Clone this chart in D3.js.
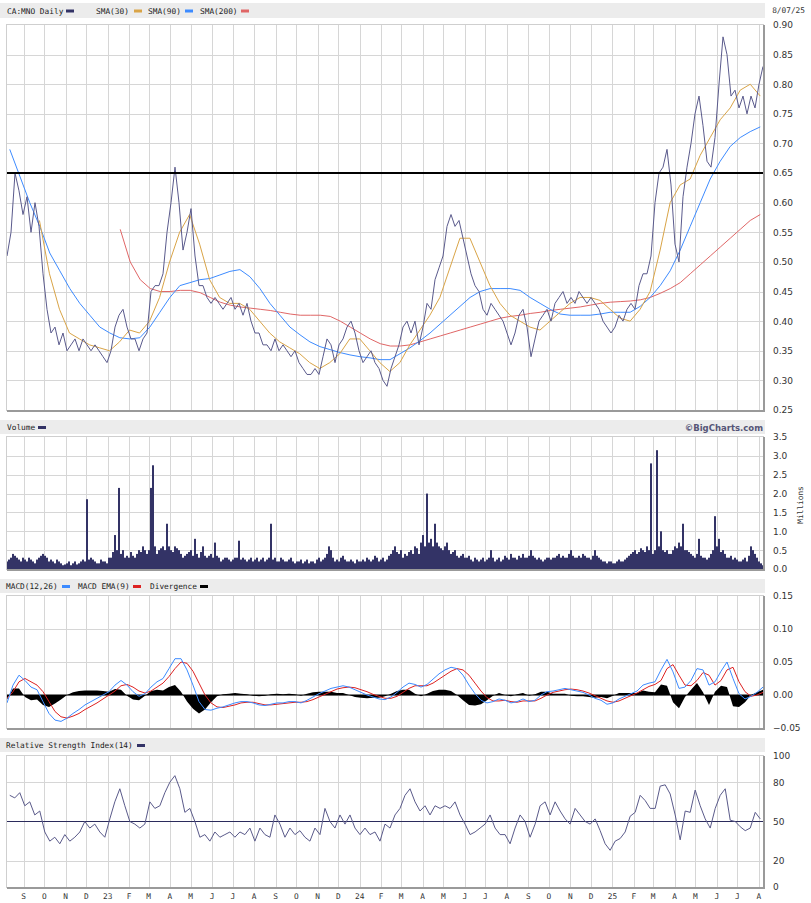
<!DOCTYPE html>
<html><head><meta charset="utf-8">
<script src="https://cdn.jsdelivr.net/npm/d3@7"></script>
<style>body{margin:0;background:#fff}svg{display:block}</style>
</head><body><svg id="c" width="811" height="903"></svg>
<script>
// ---------------- DATA ----------------
const chartStart = "2022-08-08", chartEnd = "2025-08-07";
const chartTitle = "CA:MNO Daily", chartDate = "8/07/25";
const monthLabels = ["S","O","N","D","23","F","M","A","M","J","J","A","S","O","N","D","24","F","M","A","M","J","J","A","S","O","N","D","25","F","M","A","M","J","J","A"];
const priceTicks = [0.25,0.30,0.35,0.40,0.45,0.50,0.55,0.60,0.65,0.70,0.75,0.80,0.85,0.90];
const volumeTicks = [0,0.5,1,1.5,2,2.5,3,3.5];
const macdTicks = [-0.05,0,0.05,0.10,0.15];
const rsiTicks = [0,20,50,80,100];
const resistanceLevel = 0.65;

// price (evenly spaced chartStart..chartEnd)
const priceValues = [
0.51,0.55,0.65,0.62,0.58,0.61,0.55,0.60,0.56,0.48,
0.42,0.38,0.39,0.36,0.38,0.35,0.36,0.37,0.35,0.37,
0.36,0.35,0.36,0.35,0.34,0.33,0.35,0.39,0.41,0.42,
0.39,0.37,0.37,0.35,0.37,0.38,0.45,0.46,0.46,0.48,
0.55,0.60,0.66,0.60,0.52,0.55,0.59,0.51,0.46,0.46,
0.44,0.43,0.44,0.43,0.42,0.43,0.44,0.42,0.43,0.41,
0.43,0.40,0.38,0.38,0.36,0.36,0.35,0.37,0.35,0.36,
0.35,0.34,0.35,0.33,0.32,0.31,0.31,0.32,0.31,0.34,
0.37,0.36,0.33,0.36,0.37,0.39,0.40,0.38,0.35,0.33,
0.34,0.35,0.33,0.32,0.30,0.29,0.32,0.34,0.36,0.39,
0.40,0.38,0.40,0.36,0.39,0.43,0.42,0.47,0.49,0.51,
0.56,0.58,0.56,0.57,0.54,0.51,0.48,0.46,0.45,0.42,
0.41,0.43,0.42,0.41,0.40,0.38,0.36,0.38,0.41,0.42,
0.39,0.34,0.37,0.40,0.41,0.42,0.40,0.43,0.44,0.45,
0.43,0.44,0.43,0.45,0.44,0.43,0.44,0.43,0.42,0.40,
0.39,0.38,0.39,0.41,0.40,0.42,0.43,0.42,0.46,0.48,
0.48,0.51,0.60,0.65,0.66,0.69,0.63,0.53,0.50,0.61,
0.66,0.70,0.75,0.78,0.73,0.67,0.66,0.71,0.80,0.88,
0.85,0.78,0.79,0.76,0.78,0.75,0.78,0.76,0.80,0.83];

const sma30Span = ["2022-09-24","2025-08-03"];
const sma30Values = [
0.57,0.48,0.42,0.38,0.37,0.36,0.355,0.35,0.365,0.385,
0.38,0.40,0.44,0.50,0.55,0.58,0.53,0.47,0.44,0.43,
0.43,0.42,0.40,0.38,0.365,0.355,0.345,0.33,0.32,0.33,
0.345,0.37,0.37,0.35,0.33,0.315,0.33,0.36,0.385,0.41,
0.44,0.49,0.54,0.54,0.50,0.46,0.43,0.41,0.40,0.39,
0.385,0.40,0.415,0.43,0.44,0.44,0.435,0.42,0.405,0.40,
0.42,0.45,0.52,0.60,0.63,0.64,0.68,0.71,0.74,0.76,
0.79,0.80,0.78];

const sma90Span = ["2022-08-12","2025-08-03"];
const sma90Values = [
0.69,0.645,0.60,0.56,0.515,0.485,0.455,0.43,0.41,0.39,
0.38,0.372,0.37,0.372,0.39,0.415,0.44,0.46,0.465,0.47,
0.472,0.478,0.484,0.487,0.475,0.455,0.43,0.41,0.39,0.377,
0.365,0.357,0.352,0.347,0.343,0.34,0.338,0.335,0.335,0.345,
0.355,0.367,0.38,0.395,0.41,0.425,0.44,0.45,0.455,0.455,
0.455,0.452,0.44,0.43,0.42,0.412,0.41,0.41,0.41,0.412,
0.415,0.415,0.415,0.425,0.44,0.46,0.485,0.52,0.56,0.60,
0.64,0.67,0.695,0.71,0.72,0.728];

const sma200Span = ["2023-01-19","2025-08-03"];
const sma200Values = [
0.555,0.50,0.47,0.455,0.45,0.45,0.452,0.452,0.448,0.44,
0.432,0.427,0.424,0.422,0.42,0.418,0.415,0.412,0.41,0.41,
0.41,0.408,0.40,0.39,0.38,0.37,0.362,0.358,0.358,0.36,
0.365,0.37,0.375,0.38,0.385,0.39,0.395,0.40,0.405,0.408,
0.41,0.413,0.415,0.418,0.42,0.422,0.424,0.427,0.43,0.432,
0.433,0.434,0.436,0.44,0.447,0.455,0.465,0.48,0.495,0.51,
0.525,0.54,0.555,0.57,0.58];

// volume, millions (evenly spaced chartStart..chartEnd)
const volumeValues = [
0.2,0.25,0.3,0.4,0.35,0.3,0.25,0.2,0.3,0.25,0.2,0.3,0.25,0.2,0.15,0.25,0.3,0.35,0.4,0.35,
0.3,0.2,0.25,0.2,0.15,0.25,0.2,0.15,0.1,0.12,0.15,0.2,0.1,0.15,0.2,0.12,0.15,0.2,0.25,0.2,
1.85,0.25,0.3,0.25,0.2,0.15,0.15,0.25,0.2,0.2,0.15,0.3,0.3,0.45,0.9,0.5,2.15,0.4,0.5,0.3,
0.35,0.3,0.45,0.35,0.3,0.4,0.5,0.45,0.6,0.5,0.4,0.5,2.15,2.75,0.6,0.4,0.5,0.55,0.6,0.5,
1.2,0.6,0.5,0.45,0.6,0.55,0.5,0.4,0.3,0.35,0.4,0.45,0.5,0.35,0.8,0.4,0.3,0.45,0.6,0.35,
0.3,0.35,0.4,0.3,0.7,0.35,0.3,0.2,0.25,0.3,0.3,0.25,0.2,0.25,0.3,0.3,0.75,0.25,0.3,0.25,
0.2,0.25,0.3,0.2,0.25,0.3,0.2,0.25,0.3,0.2,0.25,0.3,1.2,0.25,0.3,0.2,0.2,0.3,0.25,0.2,
0.2,0.25,0.3,0.2,0.15,0.2,0.2,0.25,0.15,0.2,0.25,0.15,0.2,0.2,0.15,0.25,0.3,0.2,0.25,0.3,
0.4,0.6,0.5,0.3,0.2,0.25,0.2,0.3,0.35,0.25,0.2,0.2,0.25,0.2,0.15,0.25,0.2,0.2,0.25,0.2,
0.3,0.25,0.2,0.25,0.35,0.3,0.2,0.25,0.3,0.2,0.25,0.35,0.4,0.5,0.6,0.45,0.4,0.5,0.3,0.4,
0.35,0.45,0.5,0.4,0.6,0.55,0.4,0.7,0.9,0.6,2.0,0.7,0.8,0.6,1.2,0.7,0.6,0.55,0.5,0.6,
0.7,0.5,0.4,0.45,0.5,0.35,0.3,0.35,0.4,0.3,0.3,0.35,0.25,0.2,0.3,0.25,0.2,0.25,0.3,0.2,
0.25,0.3,0.5,0.3,0.2,0.25,0.3,0.2,0.25,0.35,0.3,0.25,0.4,0.3,0.3,0.25,0.35,0.3,0.4,0.3,
0.3,0.35,0.5,0.35,0.3,0.25,0.3,0.25,0.2,0.25,0.3,0.3,0.25,0.3,0.3,0.35,0.4,0.3,0.35,0.3,
0.3,0.4,0.5,0.35,0.3,0.3,0.35,0.3,0.4,0.35,0.3,0.3,0.25,0.35,0.5,0.35,0.3,0.25,0.2,0.2,
0.15,0.2,0.2,0.15,0.15,0.2,0.25,0.2,0.2,0.25,0.3,0.35,0.4,0.45,0.5,0.4,0.45,0.55,0.5,0.45,
0.6,0.5,2.8,0.4,0.5,3.15,0.6,1.0,0.5,0.45,0.5,0.4,0.4,0.5,0.6,0.55,0.7,0.6,1.2,0.5,
0.5,0.45,0.4,0.35,0.3,0.4,0.8,0.35,0.3,0.3,0.25,0.3,0.4,0.5,1.4,0.6,0.8,0.45,0.5,0.4,
0.3,0.3,0.35,0.25,0.3,0.25,0.2,0.2,0.25,0.3,0.2,0.35,0.6,0.5,0.4,0.3,0.2,0.15,0.1];

// MACD(12,26) and EMA(9) (evenly spaced chartStart..chartEnd)
const macdValues = [
-0.012,0.015,0.030,0.022,0.012,0.008,-0.010,-0.028,-0.038,-0.040,
-0.035,-0.028,-0.022,-0.015,-0.010,-0.005,0.000,0.005,0.015,0.022,
0.015,0.005,-0.002,0.002,0.012,0.020,0.025,0.040,0.055,0.055,
0.038,0.015,-0.010,-0.022,-0.023,-0.020,-0.018,-0.015,-0.012,-0.010,
-0.010,-0.012,-0.015,-0.016,-0.014,-0.012,-0.012,-0.010,-0.010,-0.012,
-0.008,-0.003,0.002,0.006,0.010,0.012,0.014,0.012,0.008,0.004,
0.000,-0.003,-0.006,-0.007,-0.003,0.004,0.012,0.018,0.016,0.012,
0.016,0.024,0.032,0.038,0.042,0.040,0.030,0.015,0.002,-0.008,
-0.012,-0.010,-0.006,-0.008,-0.012,-0.010,-0.006,-0.010,-0.008,0.000,
0.005,0.006,0.008,0.010,0.008,0.006,0.004,0.000,-0.005,-0.008,
-0.014,-0.012,-0.006,-0.002,0.002,0.006,0.015,0.018,0.020,0.038,
0.054,0.035,0.010,0.012,0.022,0.040,0.038,0.015,0.020,0.036,
0.050,0.025,0.002,-0.006,-0.002,0.004,0.012];
const signalValues = [
-0.005,0.005,0.020,0.025,0.020,0.015,0.005,-0.010,-0.025,-0.033,
-0.035,-0.032,-0.028,-0.022,-0.017,-0.012,-0.006,0.000,0.006,0.014,
0.016,0.012,0.006,0.003,0.006,0.012,0.018,0.028,0.040,0.050,
0.048,0.036,0.018,0.000,-0.012,-0.018,-0.019,-0.017,-0.015,-0.012,
-0.011,-0.011,-0.013,-0.015,-0.015,-0.014,-0.013,-0.012,-0.011,-0.011,
-0.010,-0.007,-0.003,0.001,0.005,0.009,0.011,0.012,0.011,0.008,
0.005,0.001,-0.002,-0.005,-0.005,-0.002,0.004,0.010,0.014,0.014,
0.014,0.018,0.024,0.030,0.036,0.040,0.038,0.030,0.018,0.006,
-0.004,-0.009,-0.009,-0.008,-0.010,-0.011,-0.009,-0.009,-0.009,-0.005,
0.000,0.004,0.006,0.008,0.009,0.008,0.006,0.003,-0.001,-0.005,
-0.009,-0.011,-0.009,-0.005,-0.001,0.003,0.008,0.013,0.016,0.022,
0.040,0.046,0.030,0.015,0.014,0.022,0.034,0.030,0.015,0.022,
0.038,0.042,0.020,0.005,-0.002,0.000,0.004];

// RSI(14)
const rsiSpan = ["2022-08-12","2025-08-03"];
const rsiValues = [
70,68,72,62,65,55,58,42,35,38,
33,40,35,38,42,50,45,48,42,38,
52,65,75,62,50,48,45,48,65,60,
62,72,80,85,75,57,60,50,38,40,
35,42,38,40,42,38,42,40,45,35,
45,40,38,55,48,38,45,40,43,38,
35,45,40,60,50,45,55,48,55,45,
40,45,40,42,35,48,45,55,60,70,
75,65,58,62,55,62,60,62,60,65,
55,48,40,42,45,48,55,45,40,40,
33,45,55,50,38,48,62,65,55,65,
58,52,48,60,55,50,48,52,43,33,
28,35,37,42,54,57,70,66,60,60,
77,78,71,55,36,58,57,74,62,52,
45,60,70,75,51,50,46,43,45,57,
52];

// ---------------- DRAW ----------------
const svg = d3.select("#c");
const L = 7, R = 763;
const parse = d3.utcParse("%Y-%m-%d");
function spread(span, values) {
  const t = d3.scaleLinear().domain([0, values.length - 1]).range([parse(span[0]).getTime(), parse(span[1]).getTime()]);
  return values.map((v, i) => ({date: new Date(t(i)), value: v}));
}
const full = [chartStart, chartEnd];
const price = spread(full, priceValues);
const sma30 = spread(sma30Span, sma30Values);
const sma90 = spread(sma90Span, sma90Values);
const sma200 = spread(sma200Span, sma200Values);
const volume = spread(full, volumeValues);
const macd = spread(full, macdValues);
const signal = spread(full, signalValues);
const diverg = macd.map((d, i) => ({date: d.date, value: d.value - signalValues[i]}));
const rsi = spread(rsiSpan, rsiValues);

const x = d3.scaleUtc().domain([parse(chartStart), parse(chartEnd)]).range([L, R]);
const months = d3.utcMonth.range(parse("2022-09-01"), parse("2025-08-08"));

const panels = {
  price: {top: 25, bottom: 410},
  vol:   {top: 437, bottom: 569},
  macd:  {top: 596, bottom: 728},
  rsi:   {top: 756, bottom: 887}
};
const yP = d3.scaleLinear().domain([0.25, 0.90]).range([panels.price.bottom, panels.price.top]);
const yV = d3.scaleLinear().domain([0, 3.5]).range([panels.vol.bottom, panels.vol.top]);
const yM = d3.scaleLinear().domain([-0.05, 0.15]).range([panels.macd.bottom, panels.macd.top]);
const yR = d3.scaleLinear().domain([0, 100]).range([panels.rsi.bottom, panels.rsi.top]);

const mono = '"DejaVu Sans Mono", monospace';
const sans = '"DejaVu Sans", Verdana, sans-serif';
const gridC = "#d6d6d6";
const fs = 7.8;

function header(y0, h, items, rightText) {
  svg.append("rect").attr("x", 0).attr("y", y0).attr("width", 765).attr("height", h).attr("fill", "#ececec");
  items.forEach(it => {
    svg.append("text").attr("x", it.x).attr("y", y0 + h - 4).attr("font-family", mono).attr("font-size", fs)
      .attr("fill", "#222").text(it.text);
    if (it.color) svg.append("rect").attr("x", it.sx).attr("y", y0 + h/2 - 1).attr("width", 8).attr("height", 3).attr("fill", it.color);
  });
  if (rightText) svg.append("text").attr("x", R).attr("y", y0 + h - 3.5).attr("text-anchor", "end")
    .attr("font-family", sans).attr("font-weight", "bold").attr("font-size", 8.5).attr("fill", "#555577").text(rightText);
}

function panel(name, yScale, ticks, gridTicks, fmt) {
  const p = panels[name];
  const g = svg.append("g");
  g.append("rect").attr("x", L).attr("y", p.top).attr("width", R - L).attr("height", p.bottom - p.top).attr("fill", "#fff");
  g.selectAll(".vg").data(months).join("line")
    .attr("x1", d => Math.round(x(d)) + 0.5).attr("x2", d => Math.round(x(d)) + 0.5)
    .attr("y1", p.top).attr("y2", p.bottom).attr("stroke", gridC).attr("stroke-width", 1);
  g.selectAll(".hg").data(gridTicks).join("line")
    .attr("x1", L).attr("x2", R).attr("y1", d => Math.round(yScale(d)) + 0.5).attr("y2", d => Math.round(yScale(d)) + 0.5)
    .attr("stroke", gridC).attr("stroke-width", 1);
  const axis = d3.axisRight(yScale).tickValues(ticks).tickSize(0).tickPadding(0).tickFormat(fmt);
  const ag = svg.append("g").attr("transform", `translate(773,0)`).call(axis);
  ag.select(".domain").remove();
  ag.selectAll("text").attr("font-family", sans).attr("font-size", 9).attr("fill", "#333").attr("x", 0);
  svg.append("clipPath").attr("id", "clip-" + name).append("rect").attr("x", L).attr("y", p.top).attr("width", R - L).attr("height", p.bottom - p.top);
  return g.append("g").attr("clip-path", `url(#clip-${name})`);
}
function frame(name) {
  const p = panels[name];
  svg.append("rect").attr("x", L - 0.5).attr("y", p.top - 0.5).attr("width", R - L + 1).attr("height", p.bottom - p.top + 1)
    .attr("fill", "none").attr("stroke", "#cfcfcf");
  svg.append("line").attr("x1", R + 1).attr("x2", R + 1).attr("y1", p.top).attr("y2", p.bottom + 2).attr("stroke", "#9a9a9a").attr("stroke-width", 2);
  svg.append("line").attr("x1", L).attr("x2", R + 2).attr("y1", p.bottom + 1).attr("y2", p.bottom + 1).attr("stroke", "#9a9a9a").attr("stroke-width", 2);
}
const lineGen = (ys) => d3.line().x(d => x(d.date)).y(d => ys(d.value));

// ---- headers
header(3, 15, [
  {x: 7, text: chartTitle, sx: 66, color: "#333366"},
  {x: 96, text: "SMA(30)", sx: 134, color: "#d9a447"},
  {x: 148, text: "SMA(90)", sx: 185, color: "#3d8bff"},
  {x: 200, text: "SMA(200)", sx: 241, color: "#e06666"}
]);
svg.append("text").attr("x", 805).attr("y", 13).attr("text-anchor", "end").attr("font-family", mono).attr("font-size", fs).attr("fill", "#333").text(chartDate);
header(420, 14, [{x: 7, text: "Volume", sx: 38, color: "#333366"}], "\u00a9BigCharts.com");
header(579, 14, [
  {x: 6, text: "MACD(12,26)", sx: 62, color: "#3d8bff"},
  {x: 78, text: "MACD EMA(9)", sx: 133, color: "#dd2222"},
  {x: 150, text: "Divergence", sx: 200, color: "#000"}
]);
header(738, 14, [{x: 6, text: "Relative Strength Index(14)", sx: 137, color: "#333366"}]);

// ---- price panel
const gp = panel("price", yP, priceTicks, priceTicks.slice(1, -1), d3.format(".2f"));
gp.append("path").datum(sma200).attr("d", lineGen(yP)).attr("fill", "none").attr("stroke", "#e06666").attr("stroke-width", 1);
gp.append("path").datum(sma90).attr("d", lineGen(yP)).attr("fill", "none").attr("stroke", "#3d8bff").attr("stroke-width", 1);
gp.append("path").datum(sma30).attr("d", lineGen(yP)).attr("fill", "none").attr("stroke", "#d9a447").attr("stroke-width", 1);
gp.append("path").datum(price).attr("d", lineGen(yP)).attr("fill", "none").attr("stroke", "#5a5a8c").attr("stroke-width", 1);
gp.append("line").attr("x1", L).attr("x2", R).attr("y1", yP(resistanceLevel)).attr("y2", yP(resistanceLevel)).attr("stroke", "#000").attr("stroke-width", 2);
frame("price");

// ---- volume panel
const gv = panel("vol", yV, volumeTicks, volumeTicks.slice(1, -1), d3.format(".1f"));
const bw = (R - L) / (volumeValues.length - 1);
gv.selectAll("rect.v").data(volume).join("rect")
  .attr("x", d => x(d.date) - bw / 2).attr("width", bw)
  .attr("y", d => yV(d.value)).attr("height", d => yV(0) - yV(d.value)).attr("fill", "#333366");
frame("vol");
svg.append("text").attr("transform", "translate(803,505) rotate(-90)").attr("text-anchor", "middle")
  .attr("font-family", mono).attr("font-size", fs).attr("fill", "#333").text("Millions");

// ---- MACD panel
const gm = panel("macd", yM, macdTicks, [0.10, 0.05, 0], d3.format(".2f"));
gm.append("path").datum(diverg).attr("d", d3.area().x(d => x(d.date)).y0(yM(0)).y1(d => yM(d.value))).attr("fill", "#000");
gm.append("line").attr("x1", L).attr("x2", R).attr("y1", yM(0)).attr("y2", yM(0)).attr("stroke", "#000").attr("stroke-width", 1.2);
gm.append("path").datum(signal).attr("d", lineGen(yM)).attr("fill", "none").attr("stroke", "#dd2222").attr("stroke-width", 1);
gm.append("path").datum(macd).attr("d", lineGen(yM)).attr("fill", "none").attr("stroke", "#3d8bff").attr("stroke-width", 1);
frame("macd");

// ---- RSI panel
const gr = panel("rsi", yR, rsiTicks, [20, 80], d3.format("d"));
gr.append("line").attr("x1", L).attr("x2", R).attr("y1", yR(50)).attr("y2", yR(50)).attr("stroke", "#2b2b5c").attr("stroke-width", 1.2);
gr.append("path").datum(rsi).attr("d", lineGen(yR)).attr("fill", "none").attr("stroke", "#5a5a8a").attr("stroke-width", 1);
frame("rsi");

// ---- month labels
svg.append("g").selectAll("text").data(months).join("text")
  .attr("x", d => x(d)).attr("y", 899).attr("text-anchor", "middle")
  .attr("font-family", mono).attr("font-size", fs).attr("fill", "#333")
  .text((d, i) => monthLabels[i]);
</script></body></html>
